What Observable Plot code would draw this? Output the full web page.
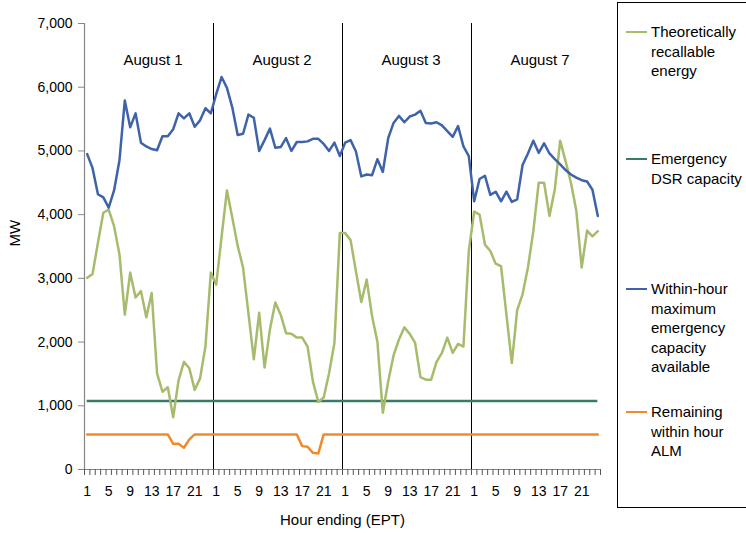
<!DOCTYPE html>
<html>
<head>
<meta charset="utf-8">
<script src="https://cdn.jsdelivr.net/npm/d3@7"></script>
<script src="https://cdn.jsdelivr.net/npm/@observablehq/plot@0.6"></script>
<style>
  html, body { margin: 0; padding: 0; background: #fff; }
  #wrap { position: relative; width: 746px; height: 535px; overflow: hidden; font-family: "Liberation Sans", Arial, sans-serif; }
  #chart { position: absolute; left: 0; top: 0; }
  #legend { position: absolute; left: 617px; top: 2px; width: 150px; height: 506px; border: 1.3px solid #000; border-right: none; box-sizing: border-box; }
  .item { position: absolute; left: 0; }
  .sw { position: absolute; left: 8px; width: 21px; height: 2.5px; }
  .lab { position: absolute; left: 33px; top: 0; font-size: 15px; line-height: 19.5px; color: #000; white-space: nowrap; }
</style>
</head>
<body>
<div id="wrap">
  <div id="chart"></div>
  <div id="legend"></div>
</div>
<script>
const days = ["August 1", "August 2", "August 3", "August 7"];
const hourTickLabels = [1, 5, 9, 13, 17, 21];
const yTicks = [0, 1000, 2000, 3000, 4000, 5000, 6000, 7000];

// Theoretically recallable energy (MW), hourly, 4 days x 24 hours
const recallable = [
  3010, 3070, 3560, 4030, 4080, 3820, 3380, 2430, 3090, 2700, 2800, 2390, 2770, 1510, 1220, 1290, 820, 1400, 1690, 1590, 1250, 1430, 1930, 3090,
  2900, 3650, 4380, 3950, 3510, 3170, 2450, 1730, 2460, 1600, 2200, 2620, 2430, 2140, 2130, 2070, 2070, 1930, 1380, 1060, 1130, 1510, 1990, 3710,
  3710, 3600, 3110, 2630, 2980, 2410, 2000, 890, 1380, 1790, 2040, 2230, 2130, 1990, 1450, 1410, 1410, 1690, 1830, 2070, 1830, 1970, 1930, 3430,
  4050, 4000, 3530, 3430, 3230, 3190, 2430, 1670, 2500, 2750, 3170, 3740, 4500, 4500, 3980, 4400, 5160, 4840, 4500, 4060, 3170, 3750, 3660, 3740
];

// Emergency DSR capacity (MW), flat
const dsrCapacity = 1075;

// Within-hour maximum emergency capacity available (MW)
const withinHour = [
  4950, 4730, 4320, 4270, 4110, 4380, 4850, 5790, 5370, 5590, 5130, 5070, 5030, 5010, 5230, 5230, 5340, 5590, 5510, 5590, 5380, 5480, 5670, 5590,
  5890, 6160, 5990, 5680, 5250, 5270, 5570, 5520, 5000, 5170, 5350, 5050, 5060, 5200, 5000, 5140, 5140, 5150, 5190, 5190, 5110, 5000, 5130, 4920,
  5130, 5170, 4990, 4600, 4630, 4620, 4870, 4670, 5200, 5440, 5550, 5450, 5540, 5570, 5630, 5440, 5430, 5450, 5400, 5310, 5220, 5390, 5070, 4920,
  4210, 4560, 4610, 4310, 4360, 4210, 4360, 4200, 4240, 4780, 4960, 5160, 4970, 5120, 4960, 4870, 4790, 4700, 4630, 4580, 4540, 4520, 4390, 3980
];

// Remaining within hour ALM (MW)
const remainingAlm = [
  550, 550, 550, 550, 550, 550, 550, 550, 550, 550, 550, 550, 550, 550, 550, 550, 404, 404, 341, 472, 550, 550, 550, 550,
  550, 550, 550, 550, 550, 550, 550, 550, 550, 550, 550, 550, 550, 550, 550, 550, 367, 357, 262, 252, 550, 550, 550, 550,
  550, 550, 550, 550, 550, 550, 550, 550, 550, 550, 550, 550, 550, 550, 550, 550, 550, 550, 550, 550, 550, 550, 550, 550,
  550, 550, 550, 550, 550, 550, 550, 550, 550, 550, 550, 550, 550, 550, 550, 550, 550, 550, 550, 550, 550, 550, 550, 550
];

const colors = {
  recallable: "#a6bc6c",
  dsr: "#3b7a68",
  within: "#3f63a9",
  alm: "#f08a2b"
};

const series = [
  {key: "recallable", label: ["Theoretically", "recallable", "energy"], top: 19},
  {key: "dsr", label: ["Emergency", "DSR capacity"], top: 146},
  {key: "within", label: ["Within-hour", "maximum", "emergency", "capacity", "available"], top: 276},
  {key: "alm", label: ["Remaining", "within hour", "ALM"], top: 399}
];

const hoursPerDay = 24;
const rows = recallable.map((v, i) => ({
  i,
  day: Math.floor(i / hoursPerDay),
  hour: (i % hoursPerDay) + 1,
  recallable: v,
  within: withinHour[i],
  alm: remainingAlm[i]
}));

const labelRows = rows.filter(d => hourTickLabels.includes(d.hour));
const boundaryTicks = d3.range(rows.length + 1).map(k => k - 0.5);
const dayBoundaries = days.slice(1).map((_, d) => (d + 1) * hoursPerDay - 0.5);
const dayLabels = days.map((name, d) => ({name, x: d * hoursPerDay + (hoursPerDay - 1) / 2}));

const chart = Plot.plot({
  width: 615,
  height: 535,
  marginLeft: 84,
  marginRight: 15,
  marginTop: 23,
  marginBottom: 66,
  x: {domain: [-0.5, rows.length - 0.5], axis: null},
  y: {domain: [0, 7000], axis: null},
  style: {fontFamily: "'Liberation Sans', Arial, sans-serif", fontSize: "14px", color: "#000", background: "#fff"},
  marks: [
    Plot.ruleX(dayBoundaries, {y1: 0, y2: 7000, stroke: "#000", strokeWidth: 1}),
    Plot.ruleY([dsrCapacity], {x1: 0, x2: rows.length - 1, stroke: colors.dsr, strokeWidth: 2.5}),
    Plot.line(rows, {x: "i", y: "alm", stroke: colors.alm, strokeWidth: 2.5}),
    Plot.line(rows, {x: "i", y: "recallable", stroke: colors.recallable, strokeWidth: 2.5}),
    Plot.line(rows, {x: "i", y: "within", stroke: colors.within, strokeWidth: 2.5}),
    Plot.ruleX([-0.5], {y1: 0, y2: 7000, stroke: "#868686", strokeWidth: 1.2}),
    Plot.ruleY([0], {x1: -0.5, x2: rows.length - 0.5, stroke: "#868686", strokeWidth: 1.2}),
    Plot.axisY({ticks: yTicks, tickFormat: d3.format(","), tickSize: 6, tickPadding: 6, stroke: "#868686", fontSize: 14, label: null}),
    Plot.axisX({ticks: boundaryTicks, tickFormat: () => "", tickSize: 6, stroke: "#555", label: null}),
    Plot.axisX({ticks: labelRows.map(d => d.i), tickFormat: i => rows[i].hour, tickSize: 0, tickPadding: 17, fontSize: 14, label: null}),
    Plot.text(dayLabels, {x: "x", y: 6420, text: "name", dx: 4, fontSize: 15}),
    Plot.text(["Hour ending (EPT)"], {frameAnchor: "bottom", dy: 55, fontSize: 15}),
    Plot.text(["MW"], {frameAnchor: "left", dx: -69, rotate: -90, fontSize: 15})
  ]
});
document.getElementById("chart").appendChild(chart);

const legend = document.getElementById("legend");
for (const s of series) {
  const item = document.createElement("div");
  item.className = "item";
  item.style.top = s.top + "px";
  const sw = document.createElement("div");
  sw.className = "sw";
  sw.style.background = colors[s.key];
  sw.style.top = "8.5px";
  const lab = document.createElement("div");
  lab.className = "lab";
  lab.innerHTML = s.label.join("<br>");
  item.appendChild(sw);
  item.appendChild(lab);
  legend.appendChild(item);
}
</script>
</body>
</html>
